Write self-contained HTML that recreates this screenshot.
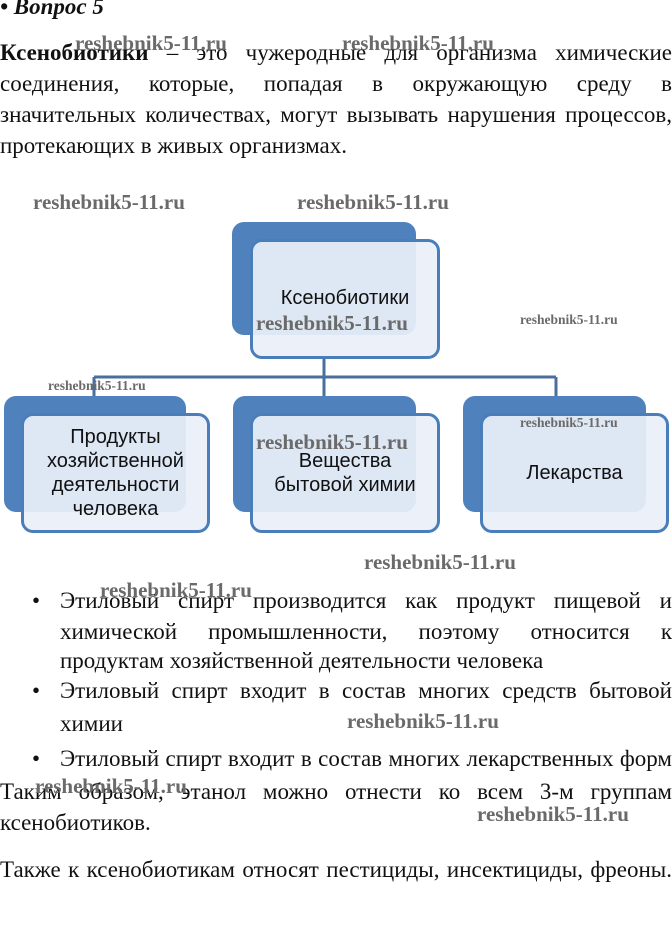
<!DOCTYPE html>
<html><head><meta charset="utf-8"><style>
body{margin:0;background:#fff;}
#p{position:relative;width:672px;height:937px;overflow:hidden;font-family:"Liberation Serif","Noto Serif CJK SC",serif;color:#111;}
.l{position:absolute;font-size:23px;line-height:26px;white-space:nowrap;}
.j{text-align:justify;text-align-last:justify;white-space:normal;}
.w{position:absolute;font-family:"Liberation Serif",serif;font-weight:bold;color:#6a6a6a;font-size:21px;line-height:22px;white-space:nowrap;}
.s{font-size:13.5px;line-height:15px;}
.b{position:absolute;border-radius:12px;}
.bk{background:#4f81bd;}
.fr{background:rgba(234,240,249,0.92);border:3px solid #4a7ebb;box-sizing:border-box;}
.t{position:absolute;font-family:"Liberation Sans",sans-serif;font-size:20px;line-height:24px;text-align:center;color:#111;display:flex;align-items:center;justify-content:center;}
</style></head><body><div id="p">
<div class="l" style="left:0;top:-6px;font-weight:bold;font-style:italic;">• Вопрос 5</div>
<div class="l j" style="left:0;top:40px;width:672px;"><b>Ксенобиотики</b> – это чужеродные для организма химические</div>
<div class="l j" style="left:0;top:71px;width:672px;">соединения, которые, попадая в окружающую среду в</div>
<div class="l j" style="left:0;top:102px;width:672px;">значительных количествах, могут вызывать нарушения процессов,</div>
<div class="l" style="left:0;top:133px;">протекающих в живых организмах.</div>

<svg style="position:absolute;left:0;top:0" width="672" height="937">
<path d="M324 358 V377 M94 377 H556 M94 377 V396 M324 377 V396 M556 377 V396" stroke="#4a6f9e" stroke-width="3" fill="none"/>
</svg>
<div class="b bk" style="left:232px;top:222px;width:184px;height:113px;"></div>
<div class="b fr" style="left:250px;top:239px;width:190px;height:120px;"></div>
<div class="b bk" style="left:4px;top:396px;width:182px;height:116px;"></div>
<div class="b fr" style="left:21px;top:413px;width:189px;height:120px;"></div>
<div class="b bk" style="left:233px;top:396px;width:183px;height:116px;"></div>
<div class="b fr" style="left:250px;top:413px;width:190px;height:120px;"></div>
<div class="b bk" style="left:463px;top:396px;width:183px;height:116px;"></div>
<div class="b fr" style="left:480px;top:413px;width:189px;height:120px;"></div>

<div class="t" style="left:250px;top:286px;width:190px;height:24px;">Ксенобиотики</div>
<div class="t" style="left:21px;top:425px;width:189px;height:96px;">Продукты<br>хозяйственной<br>деятельности<br>человека</div>
<div class="t" style="left:250px;top:449px;width:190px;height:48px;">Вещества<br>бытовой химии</div>
<div class="t" style="left:480px;top:461px;width:189px;height:24px;">Лекарства</div>

<div class="l" style="left:32px;top:588px;">•</div>
<div class="l j" style="left:60px;top:588px;width:612px;">Этиловый спирт производится как продукт пищевой и</div>
<div class="l j" style="left:60px;top:619px;width:612px;">химической промышленности, поэтому относится к</div>
<div class="l" style="left:60px;top:648px;">продуктам хозяйственной деятельности человека</div>
<div class="l" style="left:32px;top:678px;">•</div>
<div class="l j" style="left:60px;top:678px;width:612px;">Этиловый спирт входит в состав многих средств бытовой</div>
<div class="l" style="left:60px;top:711px;">химии</div>
<div class="l" style="left:32px;top:746px;">•</div>
<div class="l j" style="left:60px;top:746px;width:612px;">Этиловый спирт входит в состав многих лекарственных форм</div>
<div class="l j" style="left:0;top:779px;width:672px;">Таким образом, этанол можно отнести ко всем 3-м группам</div>
<div class="l" style="left:0;top:810px;">ксенобиотиков.</div>
<div class="l j" style="left:0;top:857px;width:672px;">Также к ксенобиотикам относят пестициды, инсектициды, фреоны.</div>

<div class="w" style="left:75px;top:32px;">reshebnik5-11.ru</div>
<div class="w" style="left:342px;top:32px;">reshebnik5-11.ru</div>
<div class="w" style="left:33px;top:191px;">reshebnik5-11.ru</div>
<div class="w" style="left:297px;top:191px;">reshebnik5-11.ru</div>
<div class="w" style="left:256px;top:312px;">reshebnik5-11.ru</div>
<div class="w s" style="left:520px;top:312px;">reshebnik5-11.ru</div>
<div class="w s" style="left:48px;top:378px;">reshebnik5-11.ru</div>
<div class="w" style="left:256px;top:431px;">reshebnik5-11.ru</div>
<div class="w s" style="left:520px;top:415px;">reshebnik5-11.ru</div>
<div class="w" style="left:364px;top:551px;">reshebnik5-11.ru</div>
<div class="w" style="left:100px;top:579px;">reshebnik5-11.ru</div>
<div class="w" style="left:347px;top:710px;">reshebnik5-11.ru</div>
<div class="w" style="left:35px;top:775px;">reshebnik5-11.ru</div>
<div class="w" style="left:477px;top:803px;">reshebnik5-11.ru</div>
</div></body></html>
